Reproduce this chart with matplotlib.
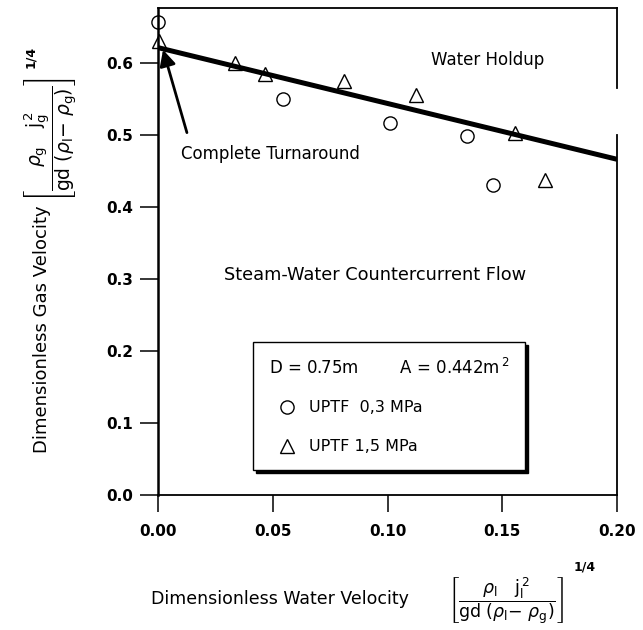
import matplotlib
matplotlib.use("Agg")
import matplotlib.pyplot as plt

plt.rcParams['font.family'] = ['DejaVu Sans']
plt.rcParams['mathtext.fontset'] = 'dejavusans'

# ---- data ----
circ_x = [0.000, 0.0546, 0.1011, 0.1345, 0.1458]
circ_y = [0.657, 0.549, 0.516, 0.498, 0.431]

tri_x = [0.0005, 0.0336, 0.0466, 0.0810, 0.1124, 0.1556, 0.1686]
tri_y = [0.630, 0.599, 0.585, 0.574, 0.555, 0.502, 0.437]

line_x = [0.0, 0.2]
line_y = [0.621, 0.466]

xticks = [0.00, 0.05, 0.10, 0.15, 0.20]
xticklabels = ['0.00', '0.05', '0.10', '0.15', '0.20']
yticks = [0.0, 0.1, 0.2, 0.3, 0.4, 0.5, 0.6]
yticklabels = ['0.0', '0.1', '0.2', '0.3', '0.4', '0.5', '0.6']

W, H = 643, 630
fig = plt.figure(figsize=(W / 100, H / 100), dpi=100)
ax = fig.add_axes([158 / W, 1 - 495 / H, (617 - 158) / W, (495 - 8) / H])
ax.set_xlim(0, 0.2)
ax.set_ylim(0, 0.676)

# correlation line
ax.plot(line_x, line_y, color='black', lw=3.6, solid_capstyle='butt', zorder=3)

# data
ax.plot(circ_x, circ_y, linestyle='none', marker='o', markersize=9.5,
        markerfacecolor='white', markeredgecolor='black', markeredgewidth=1.0,
        clip_on=False, zorder=2, label='UPTF  0,3 MPa')
ax.plot(tri_x, tri_y, linestyle='none', marker='^', markersize=10,
        markerfacecolor='white', markeredgecolor='black', markeredgewidth=1.0,
        clip_on=False, zorder=2, label='UPTF 1,5 MPa')

# ticks
ax.set_xticks(xticks)
ax.set_xticklabels(xticklabels, fontsize=11, fontweight='bold')
ax.set_yticks(yticks)
ax.set_yticklabels(yticklabels, fontsize=11, fontweight='bold')
ax.tick_params(axis='y', direction='out', length=13, width=1.1, pad=5)
ax.tick_params(axis='x', direction='out', length=12, width=1.1, pad=9)

for s in ['left', 'bottom', 'top', 'right']:
    ax.spines[s].set_linewidth(1.3)
ax.spines['left'].set_linewidth(1.8)
# scanned right border has a gap
ax.spines['right'].set_bounds(0, 0.5)
ax.plot([1, 1], [0.836, 1.0], transform=ax.transAxes, color='black',
        lw=1.3, clip_on=False)

# annotations
ax.text(0.1438, 0.604, 'Water Holdup', fontsize=12, ha='center', va='center')
ax.text(0.0492, 0.4736, 'Complete Turnaround', fontsize=12, ha='center', va='center')
ax.annotate('', xy=(0.0022, 0.618), xytext=(0.0126, 0.503),
            arrowprops=dict(arrowstyle='-|>', color='black', lw=2.0,
                            mutation_scale=24, shrinkA=0, shrinkB=0))
ax.text(0.0946, 0.3056, 'Steam-Water Countercurrent Flow', fontsize=12.8,
        ha='center', va='center')

# legend box
leg = ax.legend(loc='upper left', bbox_to_anchor=((253 - 158) / 459, (495 - 342) / 487),
                title='D = 0.75m        A = 0.442m$^{\\,2}$', title_fontsize=12,
                fontsize=11.5, alignment='left', frameon=True, fancybox=False,
                shadow={'color': 'black', 'alpha': 1.0}, borderpad=1.0,
                labelspacing=1.5, handlelength=2.2, handletextpad=0.3,
                borderaxespad=0)
leg.get_frame().set_edgecolor('black')
leg.get_frame().set_linewidth(1.0)
leg._legend_box.sep = 16

# axis labels
fig.text(151 / W, 1 - 599 / H, 'Dimensionless Water Velocity', fontsize=12.5,
         ha='left', va='center')
fig.text(42 / W, 1 - 329 / H, 'Dimensionless Gas Velocity', fontsize=13,
         ha='center', va='center', rotation=90)

xformula = (r'$\left[\dfrac{\rho_{\mathrm{l}}\ \ \ \mathrm{j}_{\mathrm{l}}^{\,2}}'
            r'{\mathrm{gd}\ (\rho_{\mathrm{l}}\mathrm{-}\ \rho_{\mathrm{g}})}\right]$')
yformula = (r'$\left[\dfrac{\rho_{\mathrm{g}}\ \ \ \mathrm{j}_{\mathrm{g}}^{\,2}}'
            r'{\mathrm{gd}\ (\rho_{\mathrm{l}}\mathrm{-}\ \rho_{\mathrm{g}})}\right]$')
fig.text(506 / W, 1 - 601 / H, xformula, fontsize=12.5, ha='center', va='center')
fig.text(585 / W, 1 - 567 / H, '1/4', fontsize=9, fontweight='bold', ha='center', va='center')
fig.text(51 / W, 1 - 140 / H, yformula, fontsize=13.5, ha='center', va='center', rotation=90)
fig.text(31 / W, 1 - 57 / H, '1/4', fontsize=9, fontweight='bold', ha='center', va='center',
         rotation=90)

fig.savefig('out.png', dpi=100)
